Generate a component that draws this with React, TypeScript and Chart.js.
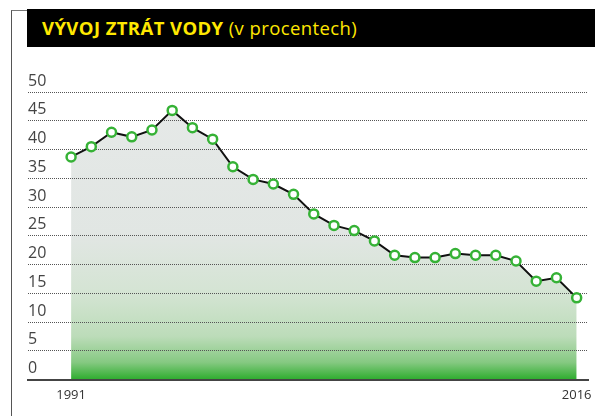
import React, { useEffect, useRef } from "react";
import { Chart, registerables } from "chart.js";

Chart.register(...registerables);

const years = [
  1991, 1992, 1993, 1994, 1995, 1996, 1997, 1998, 1999, 2000, 2001, 2002, 2003,
  2004, 2005, 2006, 2007, 2008, 2009, 2010, 2011, 2012, 2013, 2014, 2015, 2016,
];
const losses = [
  38.7, 40.5, 43.0, 42.2, 43.4, 46.8, 43.8, 41.8, 37.0, 34.8, 34.0, 32.2, 28.8,
  26.8, 25.9, 24.1, 21.6, 21.2, 21.2, 21.9, 21.6, 21.6, 20.6, 17.1, 17.7, 14.2,
];
const xTickYears = [1991, 2016];
const yMin = 0;
const yMax = 50;
const yStep = 5;

export default function App() {
  const ref = useRef<HTMLCanvasElement>(null);

  useEffect(() => {
    if (!ref.current) return;
    const chart = new Chart(ref.current, {
      type: "line",
      data: {
        datasets: [
          {
            data: years.map((y, i) => ({ x: y, y: losses[i] })),
            borderColor: "#111111",
            borderWidth: 2,
            tension: 0,
            pointRadius: 4.5,
            pointBorderWidth: 2.5,
            pointBorderColor: "#36b236",
            pointBackgroundColor: "#ffffff",
            fill: "origin",
            backgroundColor: (c: any) => {
              const a = c.chart.chartArea;
              if (!a) return "#e4e8e6";
              const g = c.chart.ctx.createLinearGradient(0, a.top, 0, a.bottom);
              g.addColorStop(0, "#e6e9e8");
              g.addColorStop(0.5, "#e1e6e3");
              g.addColorStop(0.7, "#d4e4d3");
              g.addColorStop(0.85, "#bcdcb9");
              g.addColorStop(0.94, "#86c982");
              g.addColorStop(1, "#2ead2e");
              return g;
            },
          },
        ],
      },
      options: {
        animation: false,
        responsive: false,
        layout: { padding: { left: 28, right: 7, top: 42, bottom: 0 } },
        plugins: {
          legend: { display: false },
          tooltip: { enabled: false },
          filler: { drawTime: "beforeDraw" } as any,
        },
        scales: {
          x: {
            type: "linear",
            min: 1991 - 2.13,
            max: 2016 + 0.56,
            grid: { display: false },
            border: { display: true, color: "#444444", width: 2 },
            afterBuildTicks: (s: any) => {
              s.ticks = xTickYears.map((v) => ({ value: v }));
            },
            afterFit: (s: any) => {
              s.height = 36.5;
            },
            ticks: {
              padding: 0,
              autoSkip: false,
              maxRotation: 0,
              font: { family: "Open Sans", size: 13 },
              color: "#333333",
              callback: (v: any) => String(v),
              labelOffset: ((c: any) => (c.index === 1 ? -4 : 0)) as any,
            },
          },
          y: {
            min: yMin,
            max: yMax,
            ticks: {
              stepSize: yStep,
              mirror: true,
              padding: 0,
              labelOffset: -11,
              font: { family: "Open Sans", size: 16 },
              color: "#444444",
            },
            grid: { color: "#555555", lineWidth: 1, drawTicks: false },
            border: { display: false, dash: [1, 1] },
            afterFit: (s: any) => {
              s.width = 0;
            },
          },
        },
      },
    });
    return () => chart.destroy();
  }, []);

  return (
    <div
      style={{
        position: "fixed",
        left: 0,
        top: 0,
        width: 595,
        height: 416,
        background: "#ffffff",
        overflow: "hidden",
      }}
    >
      <div
        style={{
          position: "absolute",
          left: 11,
          top: 10,
          width: 16,
          height: 406,
          borderLeft: "1px solid #555",
          borderTop: "1px solid #777",
        }}
      />
      <div
        style={{
          position: "absolute",
          left: 27,
          top: 9,
          width: 568,
          height: 38,
          background: "#000000",
          color: "#ffe800",
          fontFamily: "'Open Sans', sans-serif",
          fontSize: 18.5,
          letterSpacing: "0.4px",
          lineHeight: "38px",
          paddingLeft: 15,
          boxSizing: "border-box",
          whiteSpace: "nowrap",
        }}
      >
        <span style={{ fontWeight: 700 }}>VÝVOJ ZTRÁT VODY</span>
        <span style={{ fontWeight: 400 }}> (v procentech)</span>
      </div>
      <canvas
        ref={ref}
        width={595}
        height={366}
        style={{ position: "absolute", left: 0, top: 50, width: 595, height: 366 }}
      />
    </div>
  );
}
